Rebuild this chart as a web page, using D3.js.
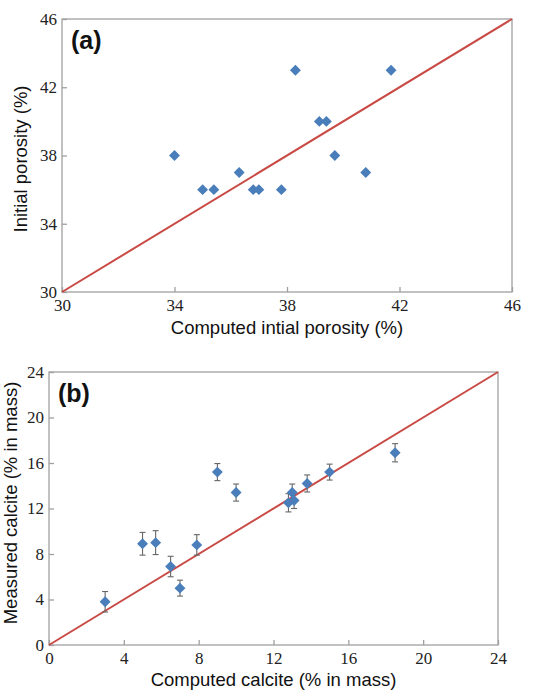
<!DOCTYPE html>
<html lang="en">
<head>
    <script src="https://d3js.org/d3.v7.min.js"></script>
    <style>
        body { margin: 0; background: #fff; }
        .tick text { font-family: "Liberation Serif", "Times New Roman", serif; font-size: 17px; fill: #222; }
        .title { font-family: "Liberation Sans", Arial, sans-serif; font-size: 18.5px; fill: #111; }
        .panel { font-family: "Liberation Sans", Arial, sans-serif; font-size: 25px; font-weight: bold; fill: #111; }
    </style>
</head>
<body>
<script>
    // panel (a): computed vs initial porosity
    var porosityComputed = [34.0, 38.3, 41.7, 39.15, 39.4, 39.7, 40.8, 36.3, 35.0, 35.4, 36.8, 37.0, 37.8];
    var porosityInitial  = [38, 43, 43, 40, 40, 38, 37, 37, 36, 36, 36, 36, 36];
    var porosityTicks = [30, 34, 38, 42, 46];

    // panel (b): computed vs measured calcite, with error bars
    var calciteComputed = [3.0, 5.0, 5.7, 6.5, 7.0, 7.9, 9.0, 10.0, 12.8, 13.0, 13.1, 13.8, 15.0, 18.5];
    var calciteMeasured = [3.8, 8.9, 9.0, 6.9, 5.0, 8.8, 15.2, 13.4, 12.5, 13.4, 12.7, 14.2, 15.2, 16.9];
    var calciteError    = [0.9, 1.0, 1.05, 0.9, 0.7, 0.9, 0.75, 0.75, 0.8, 0.75, 0.7, 0.75, 0.7, 0.8];
    var calciteTicks = [0, 4, 8, 12, 16, 20, 24];

    var width = 533, height = 691;
    var blue = "#4a7ebb", red = "#c94a45", frame = "#a0a0a0";

    var svg = d3.select("body").append("svg")
        .attr("width", width)
        .attr("height", height);

    var diamond = d3.symbol().type(d3.symbolDiamond2).size(76);

    function panel(opt) {
        var x = d3.scaleLinear().domain(opt.domain).range([opt.left, opt.right]);
        var y = d3.scaleLinear().domain(opt.domain).range([opt.bottom, opt.top]);
        var g = svg.append("g");

        // frame
        g.append("rect")
            .attr("x", opt.left).attr("y", opt.top)
            .attr("width", opt.right - opt.left).attr("height", opt.bottom - opt.top)
            .attr("fill", "none").attr("stroke", frame).attr("stroke-width", 1.3);

        // x axis, ticks pointing inward
        var xa = g.append("g")
            .attr("transform", "translate(0," + opt.bottom + ")")
            .call(d3.axisBottom(x).tickValues(opt.ticks).tickSizeInner(-5).tickSizeOuter(0).tickPadding(7));
        xa.select(".domain").remove();
        xa.selectAll(".tick line").attr("stroke", frame).attr("stroke-width", 1.3);

        // y axis, ticks pointing inward too
        var ya = g.append("g")
            .attr("transform", "translate(" + opt.left + ",0)")
            .call(d3.axisLeft(y).tickValues(opt.ticks).tickSizeInner(-5).tickSizeOuter(0).tickPadding(5));
        ya.select(".domain").remove();
        ya.selectAll(".tick line").attr("stroke", frame).attr("stroke-width", 1.3);

        // 1:1 line
        g.append("line")
            .attr("x1", x(opt.domain[0])).attr("y1", y(opt.domain[0]))
            .attr("x2", x(opt.domain[1])).attr("y2", y(opt.domain[1]))
            .attr("stroke", red).attr("stroke-width", 2);

        // error bars
        if (opt.err) {
            var eb = g.selectAll(".err").data(opt.xs).enter().append("g")
                .attr("stroke", "#666").attr("stroke-width", 1.1);
            eb.append("line")
                .attr("x1", function (d) { return x(d); })
                .attr("x2", function (d) { return x(d); })
                .attr("y1", function (d, i) { return y(opt.ys[i] + opt.err[i]); })
                .attr("y2", function (d, i) { return y(opt.ys[i] - opt.err[i]); });
            [1, -1].forEach(function (s) {
                eb.append("line")
                    .attr("x1", function (d) { return x(d) - 3; })
                    .attr("x2", function (d) { return x(d) + 3; })
                    .attr("y1", function (d, i) { return y(opt.ys[i] + s * opt.err[i]); })
                    .attr("y2", function (d, i) { return y(opt.ys[i] + s * opt.err[i]); });
            });
        }

        // points
        g.selectAll(".pt").data(opt.xs).enter().append("path")
            .attr("d", diamond)
            .attr("transform", function (d, i) { return "translate(" + x(d) + "," + y(opt.ys[i]) + ")"; })
            .attr("fill", blue);

        // labels
        g.append("text").attr("class", "title")
            .attr("x", (opt.left + opt.right) / 2).attr("y", opt.xTitleY)
            .attr("text-anchor", "middle").text(opt.xTitle);
        g.append("text").attr("class", "title")
            .attr("transform", "translate(" + opt.yTitleX + "," + opt.yTitleMid + ") rotate(-90)")
            .attr("text-anchor", "middle").text(opt.yTitle);
        g.append("text").attr("class", "panel")
            .attr("x", opt.left + 9).attr("y", opt.top + 30).text(opt.label);
    }

    panel({
        domain: [30, 46], ticks: porosityTicks,
        left: 62, right: 512, top: 19, bottom: 292,
        xs: porosityComputed, ys: porosityInitial,
        xTitle: "Computed intial porosity (%)", xTitleY: 334,
        yTitle: "Initial porosity (%)", yTitleX: 27, yTitleMid: 159,
        label: "(a)"
    });

    panel({
        domain: [0, 24], ticks: calciteTicks,
        left: 49, right: 498, top: 372, bottom: 645,
        xs: calciteComputed, ys: calciteMeasured, err: calciteError,
        xTitle: "Computed calcite (% in mass)", xTitleY: 686,
        yTitle: "Measured calcite (% in mass)", yTitleX: 17, yTitleMid: 503,
        label: "(b)"
    });
</script>
</body>
</html>
